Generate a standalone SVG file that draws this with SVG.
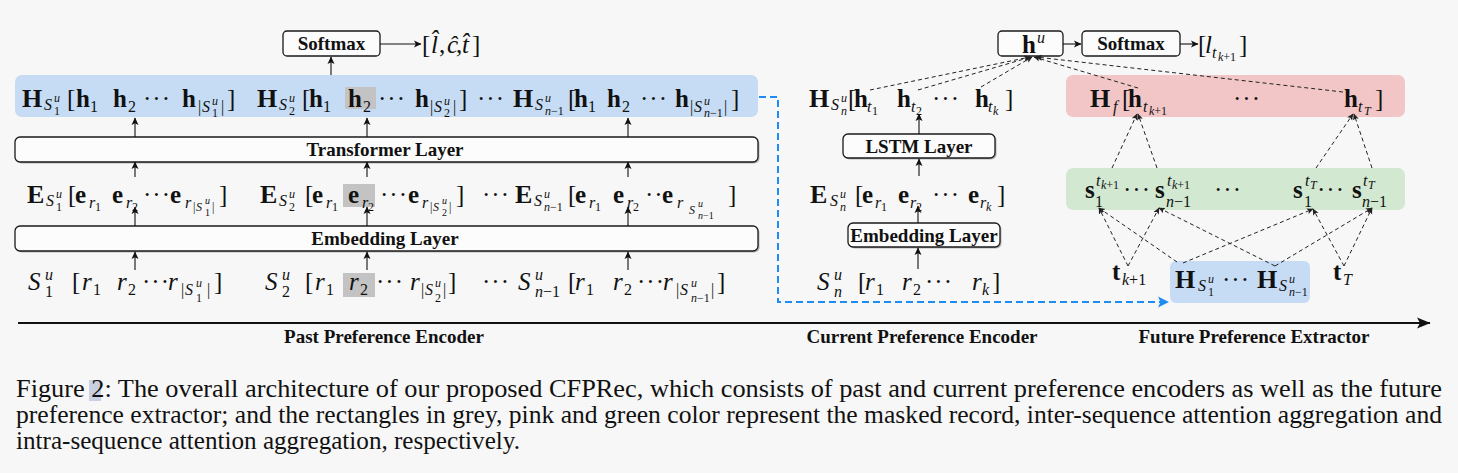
<svg xmlns="http://www.w3.org/2000/svg" width="1458" height="473" viewBox="0 0 1458 473">
<style>
text{font-family:"Liberation Serif","Times New Roman",serif;fill:#111}
.m{font-size:25px}
.B{font-weight:bold}
.L{font-size:26px}
.I{font-style:italic}
.s1{font-size:16px}
.s2{font-size:12px}
.s3{font-size:10px}
.d{letter-spacing:1px}
.lbl{font-size:19px;font-weight:bold;text-anchor:middle}
.cap{font-size:25px}
.box{fill:#fcfcfc;stroke:#1a1a1a;stroke-width:1.3}
.shd{fill:#b5b5b5}
.arr{fill:none;stroke:#111;stroke-width:1.1;marker-end:url(#ah)}
.dsh{fill:none;stroke:#222;stroke-width:1;stroke-dasharray:4 3;marker-end:url(#ahs)}
.gry{fill:#c3c3c3}
</style>
<defs>
<marker id="ah" markerUnits="userSpaceOnUse" markerWidth="8" markerHeight="8" refX="7" refY="4" orient="auto"><path d="M0,0.5 L7.5,4 L0,7.5 L1.8,4 z" fill="#111"/></marker>
<marker id="ahs" markerUnits="userSpaceOnUse" markerWidth="7" markerHeight="7" refX="6" refY="3.5" orient="auto"><path d="M0,0.5 L6.5,3.5 L0,6.5 L1.5,3.5 z" fill="#222"/></marker>
<marker id="ahb" markerUnits="userSpaceOnUse" markerWidth="12" markerHeight="12" refX="10" refY="6" orient="auto"><path d="M0,0.5 L11,6 L0,11.5 L2.5,6 z" fill="#1f8cf5"/></marker>
<marker id="ahx" markerUnits="userSpaceOnUse" markerWidth="14" markerHeight="12" refX="13" refY="6" orient="auto"><path d="M0,0.5 L13.5,6 L0,11.5 L3,6 z" fill="#111"/></marker>
</defs>
<rect width="1458" height="473" fill="#f7f7f7"/>

<!-- Past preference encoder -->
<g id="past-hidden">
<rect x="15" y="75" width="743" height="42" rx="7" fill="#c6dcf4"/>
<rect class="gry" x="345" y="87" width="31" height="22"/>
<text class="m"><tspan class="B L" x="22" y="107">H</tspan><tspan class="I s1" x="44" y="110">S</tspan><tspan class="I s2" x="54" y="102">u</tspan><tspan class="s2" x="54" y="115">1</tspan><tspan x="67" y="107">[</tspan><tspan class="B" x="76" y="107">h</tspan><tspan class="s1" x="90" y="112">1</tspan><tspan class="B" x="113" y="107">h</tspan><tspan class="s1" x="128" y="112">2</tspan><tspan class="d" x="143" y="107">···</tspan><tspan class="B" x="182" y="107">h</tspan><tspan class="s1" x="198" y="112">|</tspan><tspan class="I s1" x="202" y="112">S</tspan><tspan class="I s2" x="212" y="105">u</tspan><tspan class="s2" x="212" y="117">1</tspan><tspan class="s1" x="221" y="112">|</tspan><tspan x="227" y="107">]</tspan></text>
<text class="m"><tspan class="B L" x="257" y="107">H</tspan><tspan class="I s1" x="279" y="110">S</tspan><tspan class="I s2" x="289" y="102">u</tspan><tspan class="s2" x="289" y="115">2</tspan><tspan x="302" y="107">[</tspan><tspan class="B" x="309" y="107">h</tspan><tspan class="s1" x="323" y="112">1</tspan><tspan class="B" x="348" y="107">h</tspan><tspan class="s1" x="363" y="112">2</tspan><tspan class="d" x="378" y="107">···</tspan><tspan class="B" x="415" y="107">h</tspan><tspan class="s1" x="430" y="112">|</tspan><tspan class="I s1" x="434" y="112">S</tspan><tspan class="I s2" x="444" y="105">u</tspan><tspan class="s2" x="444" y="117">2</tspan><tspan class="s1" x="453" y="112">|</tspan><tspan x="459" y="107">]</tspan></text>
<text class="m"><tspan class="d" x="477" y="107">···</tspan><tspan class="B L" x="513" y="107">H</tspan><tspan class="I s1" x="535" y="110">S</tspan><tspan class="I s2" x="545" y="102">u</tspan><tspan class="s2" x="545" y="115"><tspan class="I">n</tspan>−1</tspan><tspan x="568" y="107">[</tspan><tspan class="B" x="574" y="107">h</tspan><tspan class="s1" x="588" y="112">1</tspan><tspan class="B" x="607" y="107">h</tspan><tspan class="s1" x="622" y="112">2</tspan><tspan class="d" x="640" y="107">···</tspan><tspan class="B" x="675" y="107">h</tspan><tspan class="s1" x="690" y="112">|</tspan><tspan class="I s1" x="694" y="112">S</tspan><tspan class="I s2" x="704" y="105">u</tspan><tspan class="s2" x="704" y="117"><tspan class="I">n</tspan>−1</tspan><tspan class="s1" x="724" y="112">|</tspan><tspan x="731" y="107">]</tspan></text>
</g>

<g id="softmax-past">
<rect class="box" x="283" y="31" width="97" height="25" rx="4"/>
<text class="lbl" x="331.5" y="50">Softmax</text>
</g>
<g id="output-past">
<text class="m"><tspan x="422" y="53">[</tspan><tspan class="I" x="431" y="53">l̂</tspan><tspan x="439" y="53">,</tspan><tspan class="I" x="447" y="53">ĉ</tspan><tspan x="456" y="53">,</tspan><tspan class="I" x="462" y="53">t̂</tspan><tspan x="472" y="53">]</tspan></text>
</g>

<g id="transformer-layer">
<rect class="shd" x="16.5" y="138.5" width="743" height="25" rx="5"/>
<rect class="box" x="15" y="137" width="743" height="25" rx="5"/>
<text class="lbl" x="385" y="156">Transformer Layer</text>
</g>

<g id="past-embeddings">
<rect class="gry" x="343" y="184" width="32" height="23"/>
<text class="m"><tspan class="B L" x="27" y="203">E</tspan><tspan class="I s1" x="46" y="206">S</tspan><tspan class="I s2" x="56" y="198">u</tspan><tspan class="s2" x="56" y="211">1</tspan><tspan x="68" y="203">[</tspan><tspan class="B" x="75" y="203">e</tspan><tspan class="I s1" x="89" y="208">r</tspan><tspan class="s2" x="95" y="211">1</tspan><tspan class="B" x="112" y="203">e</tspan><tspan class="I s1" x="126" y="208">r</tspan><tspan class="s2" x="132" y="211">2</tspan><tspan class="d" x="143" y="203">···</tspan><tspan class="B" x="170" y="203">e</tspan><tspan class="I s1" x="185" y="208">r</tspan><tspan class="s2" x="193" y="211">|</tspan><tspan class="I s2" x="196" y="211">S</tspan><tspan class="I s3" x="205" y="204">u</tspan><tspan class="s3" x="205" y="216">1</tspan><tspan class="s2" x="212" y="211">|</tspan><tspan x="219" y="203">]</tspan></text>
<text class="m"><tspan class="B L" x="260" y="203">E</tspan><tspan class="I s1" x="279" y="206">S</tspan><tspan class="I s2" x="289" y="198">u</tspan><tspan class="s2" x="289" y="211">2</tspan><tspan x="305" y="203">[</tspan><tspan class="B" x="312" y="203">e</tspan><tspan class="I s1" x="326" y="208">r</tspan><tspan class="s2" x="332" y="211">1</tspan><tspan class="B" x="348" y="203">e</tspan><tspan class="I s1" x="362" y="208">r</tspan><tspan class="s2" x="368" y="211">2</tspan><tspan class="d" x="380" y="203">···</tspan><tspan class="B" x="408" y="203">e</tspan><tspan class="I s1" x="422" y="208">r</tspan><tspan class="s2" x="430" y="211">|</tspan><tspan class="I s2" x="433" y="211">S</tspan><tspan class="I s3" x="442" y="204">u</tspan><tspan class="s3" x="442" y="216">2</tspan><tspan class="s2" x="449" y="211">|</tspan><tspan x="456" y="203">]</tspan></text>
<text class="m"><tspan class="d" x="482" y="203">···</tspan><tspan class="B L" x="515" y="203">E</tspan><tspan class="I s1" x="534" y="206">S</tspan><tspan class="I s2" x="544" y="198">u</tspan><tspan class="s2" x="544" y="211"><tspan class="I">n</tspan>−1</tspan><tspan x="568" y="203">[</tspan><tspan class="B" x="575" y="203">e</tspan><tspan class="I s1" x="589" y="208">r</tspan><tspan class="s2" x="595" y="211">1</tspan><tspan class="B" x="613" y="203">e</tspan><tspan class="I s1" x="627" y="208">r</tspan><tspan class="s2" x="633" y="211">2</tspan><tspan class="d" x="645" y="203">··</tspan><tspan class="B" x="662" y="203">e</tspan><tspan class="I s1" x="677" y="208">r</tspan><tspan class="I s2" x="689" y="214">S</tspan><tspan class="I s3" x="698" y="207">u</tspan><tspan class="s3" x="698" y="219"><tspan class="I">n</tspan>−1</tspan><tspan x="728" y="203">]</tspan></text>
</g>

<g id="embedding-layer">
<rect class="shd" x="16.5" y="227.5" width="743" height="25" rx="5"/>
<rect class="box" x="15" y="226" width="743" height="25" rx="5"/>
<text class="lbl" x="385" y="245">Embedding Layer</text>
</g>

<g id="past-sequences">
<rect class="gry" x="343" y="273" width="32" height="24"/>
<text class="m"><tspan class="I" x="28" y="290">S</tspan><tspan class="I s1" x="45" y="280">u</tspan><tspan class="s1" x="45" y="297">1</tspan><tspan x="72" y="290">[</tspan><tspan class="I" x="82" y="290">r</tspan><tspan class="s1" x="93" y="295">1</tspan><tspan class="I" x="117" y="290">r</tspan><tspan class="s1" x="128" y="295">2</tspan><tspan class="d" x="142" y="290">···</tspan><tspan class="I" x="168" y="290">r</tspan><tspan class="s1" x="181" y="295">|</tspan><tspan class="I s1" x="185" y="295">S</tspan><tspan class="I s2" x="196" y="287">u</tspan><tspan class="s2" x="196" y="302">1</tspan><tspan class="s1" x="207" y="295">|</tspan><tspan x="214" y="290">]</tspan></text>
<text class="m"><tspan class="I" x="265" y="290">S</tspan><tspan class="I s1" x="282" y="280">u</tspan><tspan class="s1" x="282" y="297">2</tspan><tspan x="305" y="290">[</tspan><tspan class="I" x="315" y="290">r</tspan><tspan class="s1" x="326" y="295">1</tspan><tspan class="I" x="349" y="290">r</tspan><tspan class="s1" x="360" y="295">2</tspan><tspan class="d" x="376" y="290">···</tspan><tspan class="I" x="410" y="290">r</tspan><tspan class="s1" x="421" y="295">|</tspan><tspan class="I s1" x="425" y="295">S</tspan><tspan class="I s2" x="435" y="287">u</tspan><tspan class="s2" x="435" y="302">2</tspan><tspan class="s1" x="443" y="295">|</tspan><tspan x="448" y="290">]</tspan></text>
<text class="m"><tspan class="d" x="482" y="290">···</tspan><tspan class="I" x="518" y="290">S</tspan><tspan class="I s1" x="535" y="280">u</tspan><tspan class="s1" x="535" y="297"><tspan class="I">n</tspan>−1</tspan><tspan x="568" y="290">[</tspan><tspan class="I" x="575" y="290">r</tspan><tspan class="s1" x="586" y="295">1</tspan><tspan class="I" x="613" y="290">r</tspan><tspan class="s1" x="624" y="295">2</tspan><tspan class="d" x="637" y="290">···</tspan><tspan class="I" x="663" y="290">r</tspan><tspan class="s1" x="676" y="295">|</tspan><tspan class="I s1" x="680" y="295">S</tspan><tspan class="I s2" x="691" y="287">u</tspan><tspan class="s2" x="691" y="302"><tspan class="I">n</tspan>−1</tspan><tspan class="s1" x="711" y="295">|</tspan><tspan x="717" y="290">]</tspan></text>
</g>

<!-- Current preference encoder -->
<g id="current-hidden">
<text class="m"><tspan class="B L" x="809" y="107">H</tspan><tspan class="I s1" x="831" y="110">S</tspan><tspan class="I s2" x="841" y="102">u</tspan><tspan class="I s2" x="841" y="115">n</tspan><tspan x="848" y="107">[</tspan><tspan class="B" x="854" y="107">h</tspan><tspan class="I s1" x="867" y="112">t</tspan><tspan class="s2" x="872" y="115">1</tspan><tspan class="B" x="897" y="107">h</tspan><tspan class="I s1" x="911" y="112">t</tspan><tspan class="s2" x="916" y="115">2</tspan><tspan class="d" x="932" y="107">···</tspan><tspan class="B" x="975" y="107">h</tspan><tspan class="I s1" x="988" y="112">t</tspan><tspan class="I s2" x="993" y="115">k</tspan><tspan x="1005" y="107">]</tspan></text>
</g>
<g id="lstm-layer">
<rect class="shd" x="844.5" y="135.5" width="152" height="24" rx="5"/>
<rect class="box" x="843" y="134" width="152" height="24" rx="5"/>
<text class="lbl" x="919" y="153">LSTM Layer</text>
</g>
<g id="current-embeddings">
<text class="m"><tspan class="B L" x="810" y="203">E</tspan><tspan class="I s1" x="830" y="206">S</tspan><tspan class="I s2" x="840" y="198">u</tspan><tspan class="I s2" x="840" y="211">n</tspan><tspan x="855" y="203">[</tspan><tspan class="B" x="862" y="203">e</tspan><tspan class="I s1" x="875" y="208">r</tspan><tspan class="s2" x="881" y="211">1</tspan><tspan class="B" x="898" y="203">e</tspan><tspan class="I s1" x="910" y="208">r</tspan><tspan class="s2" x="916" y="211">2</tspan><tspan class="d" x="932" y="203">···</tspan><tspan class="B" x="968" y="203">e</tspan><tspan class="I s1" x="980" y="208">r</tspan><tspan class="I s2" x="986" y="211">k</tspan><tspan x="997" y="203">]</tspan></text>
</g>
<g id="embedding-layer-current">
<rect class="shd" x="849.5" y="224.5" width="152" height="24" rx="5"/>
<rect class="box" x="848" y="223" width="152" height="24" rx="5"/>
<text class="lbl" x="924" y="242">Embedding Layer</text>
</g>
<g id="current-sequence">
<text class="m"><tspan class="I" x="817" y="290">S</tspan><tspan class="I s1" x="834" y="280">u</tspan><tspan class="I s1" x="834" y="297">n</tspan><tspan x="858" y="290">[</tspan><tspan class="I" x="865" y="290">r</tspan><tspan class="s1" x="876" y="295">1</tspan><tspan class="I" x="902" y="290">r</tspan><tspan class="s1" x="913" y="295">2</tspan><tspan class="d" x="925" y="290">···</tspan><tspan class="I" x="972" y="290">r</tspan><tspan class="I s1" x="982" y="295">k</tspan><tspan x="992" y="290">]</tspan></text>
</g>

<g id="user-vector">
<rect class="box" x="998" y="31" width="65" height="25" rx="4"/>
<text class="m"><tspan class="B" x="1022" y="53">h</tspan><tspan class="I s1" x="1037" y="43">u</tspan></text>
</g>
<g id="softmax-future">
<rect class="box" x="1082" y="31" width="98" height="25" rx="4"/>
<text class="lbl" x="1131" y="50">Softmax</text>
</g>
<g id="output-future">
<text class="m"><tspan x="1198" y="53">[</tspan><tspan class="I" x="1205" y="53">l</tspan><tspan class="I s1" x="1212" y="58">t</tspan><tspan class="s2" x="1218" y="61"><tspan class="I">k</tspan>+1</tspan><tspan x="1239" y="53">]</tspan></text>
</g>

<!-- Future preference extractor -->
<g id="future-hidden">
<rect x="1066" y="75" width="339" height="42" rx="7" fill="#f2c6c6"/>
<text class="m"><tspan class="B L" x="1090" y="107">H</tspan><tspan class="I s1" x="1113" y="112">f</tspan><tspan x="1122" y="107">[</tspan><tspan class="B" x="1128" y="107">h</tspan><tspan class="I s1" x="1143" y="112">t</tspan><tspan class="s2" x="1149" y="115"><tspan class="I">k</tspan>+1</tspan><tspan class="d" x="1233" y="107">···</tspan><tspan class="B" x="1344" y="107">h</tspan><tspan class="I s1" x="1358" y="112">t</tspan><tspan class="I s2" x="1364" y="115">T</tspan><tspan x="1375" y="107">]</tspan></text>
</g>
<g id="intra-attention">
<rect x="1066" y="168" width="339" height="42" rx="7" fill="#d3e8d1"/>
<text class="m"><tspan class="B" x="1085" y="198">s</tspan><tspan class="I s1" x="1096" y="186">t</tspan><tspan class="s2" x="1101" y="189"><tspan class="I">k</tspan>+1</tspan><tspan class="s1" x="1095" y="207">1</tspan><tspan class="d" x="1123" y="198">···</tspan><tspan class="B" x="1155" y="198">s</tspan><tspan class="I s1" x="1167" y="186">t</tspan><tspan class="s2" x="1172" y="189"><tspan class="I">k</tspan>+1</tspan><tspan class="s1" x="1166" y="207"><tspan class="I">n</tspan>−1</tspan><tspan class="d" x="1214" y="198">···</tspan><tspan class="B" x="1293" y="198">s</tspan><tspan class="I s1" x="1305" y="186">t</tspan><tspan class="I s2" x="1310" y="189">T</tspan><tspan class="s1" x="1304" y="207">1</tspan><tspan class="d" x="1317" y="198">···</tspan><tspan class="B" x="1352" y="198">s</tspan><tspan class="I s1" x="1363" y="186">t</tspan><tspan class="I s2" x="1368" y="189">T</tspan><tspan class="s1" x="1362" y="207"><tspan class="I">n</tspan>−1</tspan></text>
</g>
<g id="time-k1">
<text class="m"><tspan class="B" x="1112" y="280">t</tspan><tspan class="s1" x="1122" y="285"><tspan class="I">k</tspan>+1</tspan></text>
</g>
<g id="past-summary">
<rect x="1170" y="261" width="140" height="42" rx="6" fill="#c6dcf4"/>
<text class="m"><tspan class="B L" x="1175" y="288">H</tspan><tspan class="I s1" x="1198" y="291">S</tspan><tspan class="I s2" x="1208" y="283">u</tspan><tspan class="s2" x="1208" y="296">1</tspan><tspan class="d" x="1222" y="288">···</tspan><tspan class="B L" x="1257" y="288">H</tspan><tspan class="I s1" x="1279" y="291">S</tspan><tspan class="I s2" x="1289" y="283">u</tspan><tspan class="s2" x="1289" y="296"><tspan class="I">n</tspan>−1</tspan></text>
</g>
<g id="time-T">
<text class="m"><tspan class="B" x="1333" y="280">t</tspan><tspan class="I s1" x="1343" y="285">T</tspan></text>
</g>

<g id="axis-labels">
<text class="lbl" x="384" y="343">Past Preference Encoder</text>
<text class="lbl" x="922" y="343">Current Preference Encoder</text>
<text class="lbl" x="1254" y="343">Future Preference Extractor</text>
</g>

<g id="connectors">
<path class="arr" d="M331,75 V57"/>
<path class="arr" d="M380,44 H421"/>
<path class="arr" d="M135,137 V118"/><path class="arr" d="M367,137 V118"/><path class="arr" d="M628,137 V118"/>
<path class="arr" d="M135,177 V162"/><path class="arr" d="M367,177 V162"/><path class="arr" d="M628,177 V162"/>
<path class="arr" d="M135,226 V207"/><path class="arr" d="M367,226 V207"/><path class="arr" d="M628,226 V207"/>
<path class="arr" d="M135,270 V252"/><path class="arr" d="M367,270 V252"/><path class="arr" d="M628,270 V252"/>
<path class="arr" d="M919,134 V114"/>
<path class="arr" d="M919,176 V159"/>
<path class="arr" d="M918,223 V206"/>
<path class="arr" d="M918,269 V248"/>
<path class="arr" d="M1063,44 H1081"/>
<path class="arr" d="M1180,44 H1198"/>
<path class="dsh" d="M870,90 L1030,57"/>
<path class="dsh" d="M918,90 L1031,57"/>
<path class="dsh" d="M981,87 L1032,57"/>
<path class="dsh" d="M1138,88 L1034,57"/>
<path class="dsh" d="M1343,92 L1036,57"/>
<path class="dsh" d="M1112,168 L1137,114"/>
<path class="dsh" d="M1157,168 L1138,114"/>
<path class="dsh" d="M1316,168 L1353,114"/>
<path class="dsh" d="M1372,168 L1354,114"/>
<path class="dsh" d="M1128,266 L1099,208"/>
<path class="dsh" d="M1128,266 L1159,208"/>
<path class="dsh" d="M1177,262 L1099,208"/>
<path class="dsh" d="M1183,263 L1313,209"/>
<path class="dsh" d="M1275,266 L1159,208"/>
<path class="dsh" d="M1275,266 L1372,208"/>
<path class="dsh" d="M1344,266 L1313,209"/>
<path class="dsh" d="M1344,266 L1372,208"/>
<path d="M759,97 H778 V302 H1168" fill="none" stroke="#1f8cf5" stroke-width="2" stroke-dasharray="7 4" marker-end="url(#ahb)"/>
<path d="M18,323 H1430" fill="none" stroke="#111" stroke-width="2" marker-end="url(#ahx)"/>
</g>

<g id="caption">
<rect x="89" y="380" width="12" height="21" fill="#c9d0e2"/>
<text class="cap" x="16" y="397" textLength="1426" lengthAdjust="spacingAndGlyphs">Figure 2: The overall architecture of our proposed CFPRec, which consists of past and current preference encoders as well as the future</text>
<text class="cap" x="16" y="423" textLength="1426" lengthAdjust="spacingAndGlyphs">preference extractor; and the rectangles in grey, pink and green color represent the masked record, inter-sequence attention aggregation and</text>
<text class="cap" x="16" y="449" textLength="504" lengthAdjust="spacingAndGlyphs">intra-sequence attention aggregation, respectively.</text>
</g>
</svg>
